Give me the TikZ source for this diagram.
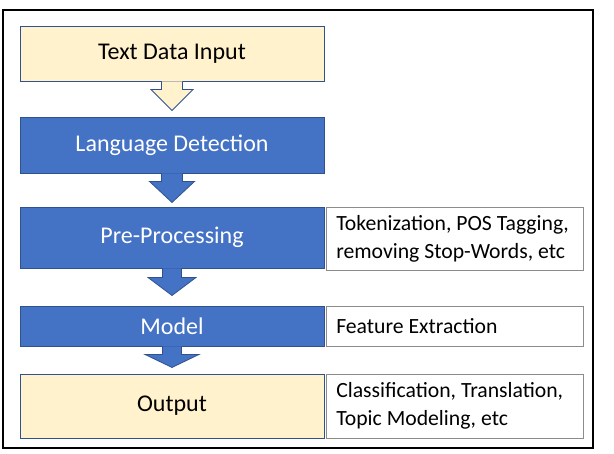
\documentclass[tikz,border=0pt]{standalone}
\usepackage{fontspec}
\setmainfont{Carlito}
\usetikzlibrary{calc}
\definecolor{bfill}{HTML}{4472C4}
\definecolor{bline}{HTML}{2F528F}
\definecolor{yfill}{HTML}{FFF2CC}
\definecolor{rline}{HTML}{8C8C8C}
\tikzset{
  mainbox/.style={draw=bline, line width=0.9pt, minimum width=304pt, inner sep=0pt, font=\fontsize{24}{28}\selectfont},
  bluebox/.style={mainbox, fill=bfill, text=white},
  yellowbox/.style={mainbox, fill=yfill, text=black},
  notebox/.style={draw=rline, line width=0.9pt, fill=white, minimum width=257pt, inner sep=0pt},
  notetext/.style={anchor=west, align=left, inner sep=0pt, xshift=10.5pt, font=\fontsize{21.7}{28}\selectfont},
  bluearrow/.style={fill=bfill, draw=bline, line width=0.8pt, line join=miter},
  yellowarrow/.style={fill=yfill, draw=bline, line width=0.8pt, line join=miter},
}
\newcommand\flowarrow[6]{%
  \draw[#1] ([xshift=-#4pt]#2.south) -- ([xshift=-#4pt,yshift=-#3pt]#2.south) -- ([xshift=-#5pt,yshift=-#3pt]#2.south) -- ([yshift=-#6pt]#2.south) -- ([xshift=#5pt,yshift=-#3pt]#2.south) -- ([xshift=#4pt,yshift=-#3pt]#2.south) -- ([xshift=#4pt]#2.south);}
\begin{document}
\begin{tikzpicture}[x=1pt,y=-1pt]
\useasboundingbox (0,0) rectangle (614,454);
\fill[white] (0,0) rectangle (614,454);
\draw[line width=1.2pt] (3,10) rectangle (593,448);
% main column
\node[yellowbox, minimum height=55pt] (b1) at (172,53.5) {Text Data Input};
\node[bluebox, minimum height=56pt] (b2) at (172,145) {Language Detection};
\node[bluebox, minimum height=61pt] (b3) at (172,237.5) {Pre-Processing};
\node[bluebox, minimum height=40pt] (b4) at (172,326) {Model};
\node[yellowbox, minimum height=64pt] (b5) at (172,406) {Output};
% arrows
\flowarrow{yellowarrow}{b1}{8}{10.5}{21}{29}
\flowarrow{bluearrow}{b2}{8}{10.5}{22.5}{29}
\flowarrow{bluearrow}{b3}{9}{9.5}{24}{27}
\flowarrow{bluearrow}{b4}{8}{9.5}{27}{21}
% notes
\node[notebox, minimum height=63pt] (n1) at (454.5,238.5) {};
\node[notetext] (n1t) at (n1.west) {Tokenization, POS Tagging,\\removing Stop-Words, etc};
\node[notebox, minimum height=40pt] (n2) at (454.5,326) {};
\node[notetext] (n2t) at (n2.west) {Feature Extraction};
\node[notebox, minimum height=64pt] (n3) at (454.5,406) {};
\node[notetext] (n3t) at (n3.west) {Classification, Translation,\\Topic Modeling, etc};
\end{tikzpicture}
\end{document}
